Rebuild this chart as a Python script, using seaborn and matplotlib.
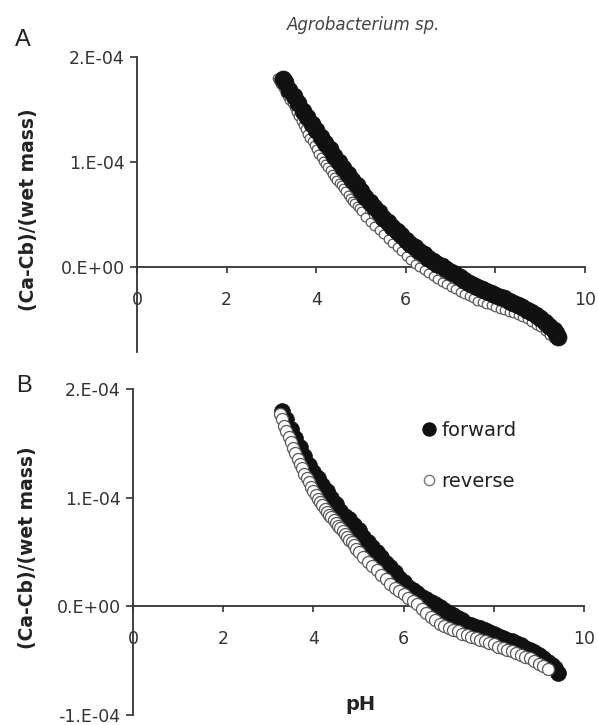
import matplotlib
matplotlib.use("Agg")
import matplotlib.pyplot as plt
from matplotlib.lines import Line2D
import numpy as np
import pandas as pd
import seaborn as sns

sns.set_theme(style="white")
plt.rcParams['font.family'] = ['DejaVu Sans']

SCALE = 1e-4  # values below are in units of 1E-04

# ---------------- Panel A ----------------
ph_fwd_a = [3.25, 3.3, 3.4, 3.5, 3.6, 3.7, 3.8, 3.9, 4.0, 4.1, 4.2, 4.3, 4.4, 4.5, 4.6, 4.7,
            4.8, 4.9, 5.0, 5.1, 5.2, 5.3, 5.4, 5.5, 5.6, 5.7, 5.8, 5.9, 6.0, 6.1, 6.2, 6.3,
            6.4, 6.5, 6.6, 6.7, 6.8, 6.9, 7.0, 7.1, 7.2, 7.3, 7.4, 7.5, 7.6, 7.7, 7.8, 7.9,
            8.0, 8.1, 8.2, 8.3, 8.4, 8.5, 8.6, 8.7, 8.8, 8.9, 9.0, 9.1, 9.2, 9.3, 9.35, 9.4]
val_fwd_a = [1.79, 1.76, 1.69, 1.63, 1.56, 1.49, 1.43, 1.36, 1.30, 1.24, 1.18, 1.12, 1.06, 1.00, 0.94, 0.89,
             0.83, 0.78, 0.72, 0.67, 0.62, 0.57, 0.52, 0.47, 0.43, 0.38, 0.34, 0.30, 0.26, 0.22, 0.19, 0.15,
             0.12, 0.09, 0.06, 0.03, 0.01, -0.02, -0.05, -0.07, -0.10, -0.12, -0.15, -0.17, -0.19, -0.21, -0.23, -0.25,
             -0.27, -0.29, -0.30, -0.32, -0.34, -0.36, -0.38, -0.41, -0.43, -0.46, -0.49, -0.52, -0.56, -0.60, -0.63, -0.67]

ph_rev_a = [3.12, 3.15, 3.2, 3.25, 3.3, 3.35, 3.4, 3.45, 3.5, 3.55, 3.6, 3.65, 3.7, 3.75, 3.8, 3.85,
            3.9, 3.95, 4.0, 4.05, 4.1, 4.15, 4.2, 4.25, 4.3, 4.35, 4.4, 4.45, 4.5, 4.55, 4.6, 4.65,
            4.7, 4.75, 4.8, 4.85, 4.9, 4.95, 5.0, 5.1, 5.2, 5.3, 5.4, 5.5, 5.6, 5.7, 5.8, 5.9,
            6.0, 6.1, 6.2, 6.3, 6.4, 6.5, 6.6, 6.7, 6.8, 6.9, 7.0, 7.1, 7.2, 7.3, 7.4, 7.5,
            7.6, 7.7, 7.8, 7.9, 8.0, 8.1, 8.2, 8.3, 8.4, 8.5, 8.6, 8.7, 8.8, 8.9, 9.0, 9.1,
            9.2, 9.28]
val_rev_a = [1.80, 1.78, 1.74, 1.70, 1.66, 1.63, 1.59, 1.56, 1.52, 1.48, 1.44, 1.39, 1.35, 1.31, 1.27, 1.23,
             1.20, 1.16, 1.12, 1.08, 1.05, 1.01, 0.98, 0.95, 0.92, 0.89, 0.86, 0.83, 0.80, 0.78, 0.75, 0.72,
             0.69, 0.66, 0.63, 0.61, 0.58, 0.56, 0.53, 0.48, 0.43, 0.39, 0.35, 0.31, 0.27, 0.23, 0.19, 0.15,
             0.10, 0.07, 0.03, 0.00, -0.03, -0.06, -0.09, -0.11, -0.14, -0.16, -0.19, -0.21, -0.24, -0.26, -0.28, -0.30,
             -0.32, -0.33, -0.35, -0.36, -0.38, -0.40, -0.41, -0.43, -0.44, -0.46, -0.48, -0.50, -0.52, -0.55, -0.57, -0.61,
             -0.65, -0.68]

# ---------------- Panel B ----------------
ph_fwd_b = [3.3, 3.4, 3.5, 3.6, 3.7, 3.8, 3.9, 4.0, 4.1, 4.2, 4.3, 4.4, 4.5, 4.6, 4.7, 4.8,
            4.9, 5.0, 5.1, 5.2, 5.3, 5.4, 5.5, 5.6, 5.7, 5.8, 5.9, 6.0, 6.1, 6.2, 6.3, 6.4,
            6.5, 6.6, 6.7, 6.8, 6.9, 7.0, 7.1, 7.2, 7.3, 7.4, 7.5, 7.6, 7.7, 7.8, 7.9, 8.0,
            8.1, 8.2, 8.3, 8.4, 8.5, 8.6, 8.7, 8.8, 8.9, 9.0, 9.1, 9.2, 9.3, 9.36, 9.43]
val_fwd_b = [1.80, 1.72, 1.63, 1.55, 1.47, 1.38, 1.30, 1.24, 1.18, 1.12, 1.06, 1.00, 0.94, 0.88, 0.83, 0.80,
             0.75, 0.70, 0.64, 0.59, 0.55, 0.50, 0.45, 0.40, 0.36, 0.32, 0.26, 0.22, 0.18, 0.15, 0.12, 0.09,
             0.07, 0.04, 0.02, -0.01, -0.03, -0.06, -0.08, -0.11, -0.13, -0.16, -0.17, -0.19, -0.20, -0.22, -0.24, -0.25,
             -0.27, -0.29, -0.31, -0.32, -0.34, -0.36, -0.38, -0.40, -0.42, -0.45, -0.48, -0.51, -0.54, -0.57, -0.61]

ph_rev_b = [3.26, 3.3, 3.35, 3.4, 3.45, 3.5, 3.55, 3.6, 3.65, 3.7, 3.75, 3.8, 3.85, 3.9, 3.95, 4.0,
            4.05, 4.1, 4.15, 4.2, 4.25, 4.3, 4.35, 4.4, 4.45, 4.5, 4.55, 4.6, 4.65, 4.7, 4.75, 4.8,
            4.85, 4.9, 4.95, 5.0, 5.1, 5.2, 5.3, 5.4, 5.5, 5.6, 5.7, 5.8, 5.9, 6.0, 6.1, 6.2,
            6.3, 6.4, 6.5, 6.6, 6.7, 6.8, 6.9, 7.0, 7.1, 7.2, 7.3, 7.4, 7.5, 7.6, 7.7, 7.8,
            7.9, 8.0, 8.1, 8.2, 8.3, 8.4, 8.5, 8.6, 8.7, 8.8, 8.9, 9.0, 9.1, 9.2]
val_rev_b = [1.77, 1.72, 1.66, 1.61, 1.56, 1.51, 1.46, 1.41, 1.36, 1.31, 1.27, 1.22, 1.18, 1.14, 1.10, 1.06,
             1.02, 0.99, 0.96, 0.93, 0.90, 0.87, 0.84, 0.82, 0.79, 0.77, 0.74, 0.72, 0.69, 0.67, 0.64, 0.61,
             0.59, 0.56, 0.53, 0.50, 0.45, 0.41, 0.37, 0.33, 0.29, 0.25, 0.21, 0.17, 0.14, 0.11, 0.08, 0.05,
             0.02, -0.02, -0.06, -0.10, -0.13, -0.16, -0.18, -0.20, -0.22, -0.23, -0.25, -0.26, -0.28, -0.29, -0.31, -0.32,
             -0.34, -0.35, -0.37, -0.38, -0.40, -0.41, -0.43, -0.45, -0.47, -0.48, -0.50, -0.53, -0.55, -0.58]

x_ticks = [0, 2, 4, 6, 8, 10]
x_labels = ["0", "2", "4", "6", "8", "10"]
y_ticks_a = [0.0, 1e-4, 2e-4]
y_labels_a = ["0.E+00", "1.E-04", "2.E-04"]
y_ticks_b = [-1e-4, 0.0, 1e-4, 2e-4]
y_labels_b = ["-1.E-04", "0.E+00", "1.E-04", "2.E-04"]


def frame(ph, val):
    return pd.DataFrame({"pH": ph, "v": np.asarray(val) * SCALE})


W, H = 598, 725
fig = plt.figure(figsize=(W / 100, H / 100), dpi=100)
fig.patch.set_facecolor("white")

axA = fig.add_axes([137 / W, 1 - 352 / H, (585 - 137) / W, (352 - 57) / H])
axB = fig.add_axes([133 / W, 1 - 715 / H, (584 - 133) / W, (715 - 389) / H])

AX_COL = "#333333"
FILL = "#111111"
OPEN_EDGE = "#5a5a5a"


def style(ax, ylim, yt, yl):
    ax.set_facecolor("white")
    ax.set_xlim(0, 10)
    ax.set_ylim(*ylim)
    for s in ["top", "right"]:
        ax.spines[s].set_visible(False)
    ax.spines["bottom"].set_position(("data", 0))
    for s in ["bottom", "left"]:
        ax.spines[s].set_color(AX_COL)
        ax.spines[s].set_linewidth(1.3)
    ax.set_xticks(x_ticks)
    ax.set_xticklabels(x_labels)
    ax.set_yticks(yt)
    ax.set_yticklabels(yl)
    ax.tick_params(axis="x", direction="out", length=4, width=1.2, pad=13,
                   labelsize=12.5, colors=AX_COL, bottom=True)
    ax.tick_params(axis="y", direction="out", length=5, width=1.2, pad=4,
                   labelsize=12.5, colors=AX_COL, left=True)
    ax.set_xlabel("")
    ax.set_ylabel("")
    ax.grid(False)


# Panel A: reverse first, forward on top
sns.scatterplot(data=frame(ph_rev_a, val_rev_a), x="pH", y="v", ax=axA, s=38,
                color="white", edgecolor=OPEN_EDGE, linewidth=0.9, zorder=3, legend=False)
sns.scatterplot(data=frame(ph_fwd_a, val_fwd_a), x="pH", y="v", ax=axA, s=150,
                color=FILL, edgecolor=FILL, linewidth=0.5, zorder=4, legend=False)
style(axA, (-0.81e-4, 2e-4), y_ticks_a, y_labels_a)

# Panel B: forward first, reverse on top
sns.scatterplot(data=frame(ph_fwd_b, val_fwd_b), x="pH", y="v", ax=axB, s=130,
                color=FILL, edgecolor=FILL, linewidth=0.5, zorder=3, legend=False)
sns.scatterplot(data=frame(ph_rev_b, val_rev_b), x="pH", y="v", ax=axB, s=75,
                color="white", edgecolor=OPEN_EDGE, linewidth=0.9, zorder=4, legend=False)
style(axB, (-1e-4, 2e-4), y_ticks_b, y_labels_b)

handles = [
    Line2D([], [], marker="o", ls="", markersize=9.4, markerfacecolor=FILL, markeredgecolor=FILL),
    Line2D([], [], marker="o", ls="", markersize=7.4, markerfacecolor="white",
           markeredgecolor="#777777", markeredgewidth=1.0),
]
axB.legend(handles=handles, labels=["forward", "reverse"], loc="upper left",
           bbox_to_anchor=(424 / W, 1 - 421 / H), bbox_transform=fig.transFigure,
           frameon=False, handlelength=0.55, handletextpad=0.35, labelspacing=1.65,
           fontsize=14, borderpad=0, borderaxespad=0, labelcolor="#222222")

# Texts
fig.text(364 / W, 1 - 25 / H, "Agrobacterium sp.", style="italic", fontsize=12,
         color="#444444", ha="center", va="center")
fig.text(23 / W, 1 - 40 / H, "A", fontsize=17, ha="center", va="center",
         family=["Liberation Sans", "DejaVu Sans"], color="#222222")
fig.text(24 / W, 1 - 386 / H, "B", fontsize=17, ha="center", va="center",
         family=["Liberation Sans", "DejaVu Sans"], color="#222222")
fig.text(29 / W, 1 - 210 / H, "(Ca-Cb)/(wet mass)", rotation=90, fontweight="bold",
         fontsize=13.5, ha="center", va="center", color="#222222")
fig.text(28 / W, 1 - 548 / H, "(Ca-Cb)/(wet mass)", rotation=90, fontweight="bold",
         fontsize=13.5, ha="center", va="center", color="#222222")
fig.text(360 / W, 1 - 705 / H, "pH", fontweight="bold", fontsize=14,
         ha="center", va="center", color="#222222")

fig.savefig("out.png", dpi=100, facecolor="white")
